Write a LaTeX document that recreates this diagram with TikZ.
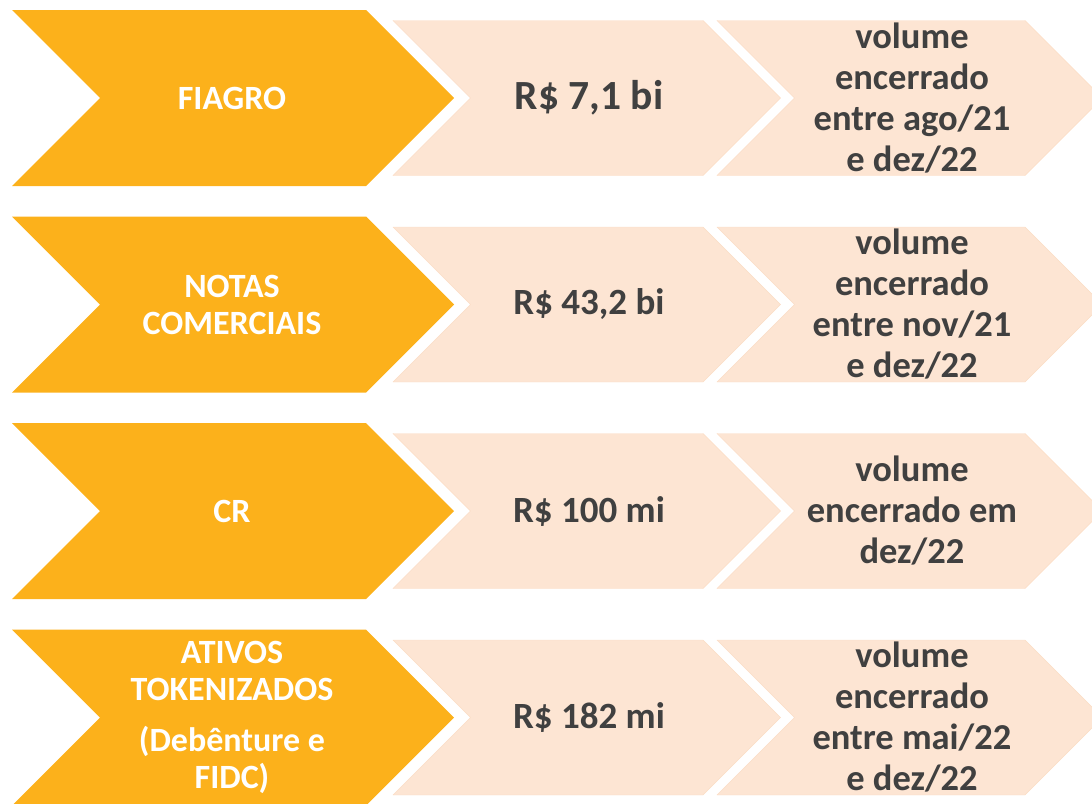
\documentclass[tikz,border=0pt]{standalone}
\usepackage{fontspec}
\setmainfont{Carlito}
\usetikzlibrary{positioning}
\definecolor{chevorange}{HTML}{FCB11B}
\definecolor{chevpeach}{HTML}{FDE5D3}
\definecolor{chevedge}{HTML}{FBDDC6}
\definecolor{txtgray}{HTML}{404040}

\begin{document}
\begin{tikzpicture}[x=1pt, y=-1pt,
    kind/.style={font=\bfseries\fontsize{34}{37}\selectfont, text=white, align=center},
    value/.style={font=\bfseries\fontsize{37}{41}\selectfont, text=txtgray, align=center},
    period/.style={font=\bfseries\fontsize{36.5}{41}\selectfont, text=txtgray, align=center}]
    \useasboundingbox (0,0) rectangle (1092,803);

    % Draw the chevrons, one row at a time
    \foreach \c in {98,304.5,511,717.5} {
        \fill[chevorange] (12,\c-88) -- (366,\c-88) -- (454,\c) -- (366,\c+88) -- (12,\c+88) -- (100,\c) -- cycle;
        \filldraw[fill=chevpeach, draw=chevedge, thin] (393,\c-77.5) -- (703,\c-77.5) -- (780.5,\c) -- (703,\c+77.5) -- (393,\c+77.5) -- (470.5,\c) -- cycle;
        \filldraw[fill=chevpeach, draw=chevedge, thin] (717,\c-77.5) -- (1025,\c-77.5) -- (1102.5,\c) -- (1025,\c+77.5) -- (717,\c+77.5) -- (794.5,\c) -- cycle;
    }

    % Row 1
    \node[kind] (fiagro) at (232,98) {FIAGRO};
    \node[value, font=\bfseries\fontsize{41.5}{44}\selectfont] (fiagroval) at (589,98) {R\$ 7,1 bi};
    \node[period] (fiagroper) at (912,98) {volume\\encerrado\\entre ago/21\\e dez/22};

    % Row 2
    \node[kind] (notas) at (232,304.5) {NOTAS\\COMERCIAIS};
    \node[value] (notasval) at (589,304.5) {R\$ 43,2 bi};
    \node[period] (notasper) at (912,304.5) {volume\\encerrado\\entre nov/21\\e dez/22};

    % Row 3
    \node[kind] (cr) at (232,511) {CR};
    \node[value] (crval) at (589,511) {R\$ 100 mi};
    \node[period] (crper) at (912,511) {volume\\encerrado em\\dez/22};

    % Row 4
    \node[kind] (ativos) at (232,717.5) {ATIVOS\\TOKENIZADOS\\[14pt](Debênture e\\FIDC)};
    \node[value] (ativosval) at (589,717.5) {R\$ 182 mi};
    \node[period] (ativosper) at (912,717.5) {volume\\encerrado\\entre mai/22\\e dez/22};
\end{tikzpicture}
\end{document}
